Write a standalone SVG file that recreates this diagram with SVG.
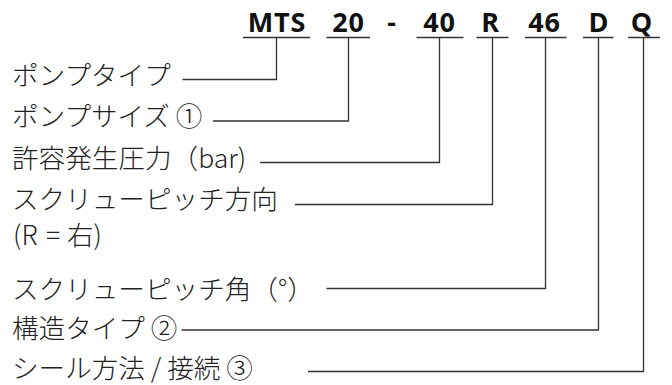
<svg xmlns="http://www.w3.org/2000/svg" width="672" height="385" viewBox="0 0 672 385">
<style>
.code{font-family:"Open Sans","Noto Sans",sans-serif;font-weight:700;font-size:27px;fill:#111;text-anchor:middle;letter-spacing:0.8px}
.lbl{font-family:"Noto Sans CJK JP",sans-serif;font-weight:300;font-size:26.6px;fill:#222}
.ul{stroke:#333;stroke-width:1.3;fill:none}
.ln{stroke:#333;stroke-width:1.3;fill:none}
</style>
<rect width="672" height="385" fill="#fff"/>
<g id="codes">
<text class="code" x="277" y="32">MTS</text>
<text class="code" x="348.5" y="32">20</text>
<text class="code" x="392" y="32">-</text>
<text class="code" x="439.5" y="32">40</text>
<text class="code" x="490.5" y="32">R</text>
<text class="code" x="544.5" y="32">46</text>
<text class="code" x="599" y="32">D</text>
<text class="code" x="642" y="32">Q</text>
<path class="ul" d="M243,37.5H310M326.5,37.5H370M416.5,37.5H463.5M476.5,37.5H508.5M525,37.5H566.5M583,37.5H613.5M628,37.5H660"/>
</g>
<g id="n1"><text class="lbl" x="12" y="85">ポンプタイプ</text></g>
<g id="n2"><text class="lbl" x="12" y="126">ポンプサイズ ①</text></g>
<g id="n3"><text class="lbl" x="12" y="168">許容発生圧力（bar)</text></g>
<g id="n4"><text class="lbl" x="12" y="209">スクリューピッチ方向</text><text class="lbl" y="245"><tspan x="13">(R</tspan><tspan x="46">=</tspan><tspan x="67">右)</tspan></text></g>
<g id="n5"><text class="lbl" x="12" y="299">スクリューピッチ角（°）</text></g>
<g id="n6"><text class="lbl" x="12" y="338">構造タイプ ②</text></g>
<g id="n7"><text class="lbl" x="12" y="378">シール方法 / 接続 ③</text></g>
<g id="connectors">
<path class="ln" d="M182.5,79.5H276.5V38"/>
<path class="ln" d="M213,121H348.5V38"/>
<path class="ln" d="M260,162.5H439.5V38"/>
<path class="ln" d="M295,204.5H492.5V38"/>
<path class="ln" d="M326.5,288.5H545.5V38"/>
<path class="ln" d="M181.5,330H598.5V38"/>
<path class="ln" d="M308,371.5H643.5V38"/>
</g>
</svg>
